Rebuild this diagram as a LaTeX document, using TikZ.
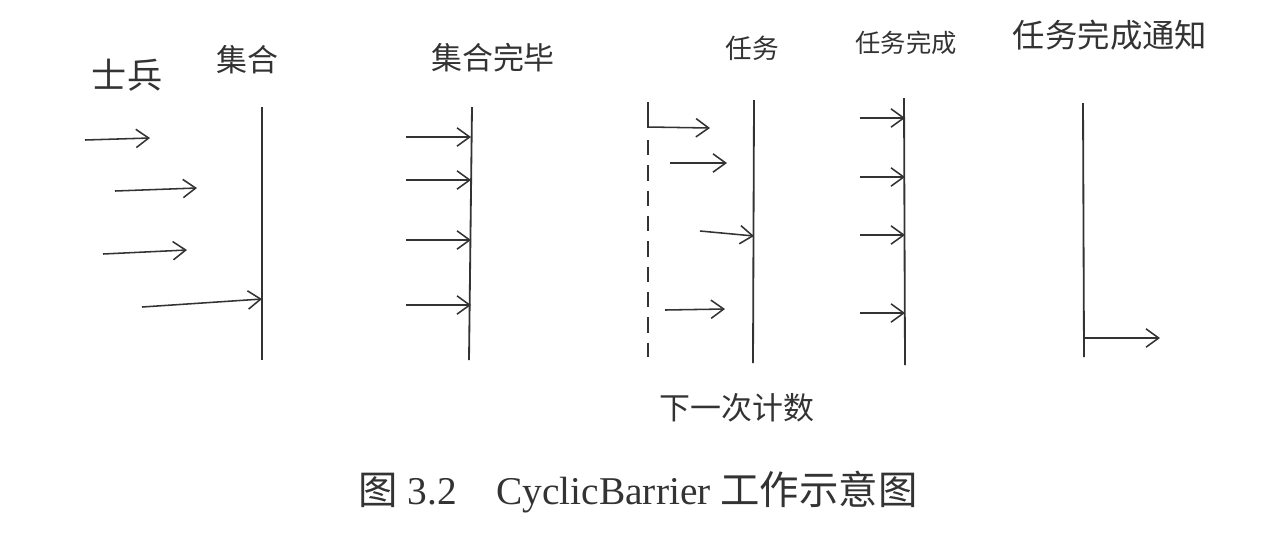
\documentclass[tikz,border=0pt]{standalone}
\usepackage{fontspec}
\setmainfont{Liberation Serif}
\newfontfamily\cjk{Noto Sans CJK SC}
\usepackage{xcolor}
\usetikzlibrary{arrows.meta}

\begin{document}
\begin{tikzpicture}[x=0.025cm, y=-0.025cm, line width=1.1pt, color=black!80, every node/.style={inner sep=0pt}, hand/.style={font=\cjk\fontsize{#1}{#1}\selectfont}, bar/.style={line width=1.3pt}, arr/.style={-{Straight Barb[length=9pt,width=13pt]}}]
  \useasboundingbox (0,0) rectangle (1280,542);
  \node[hand=25](soldier) at (127,75){士兵};
  \node[hand=22](gather) at (247,60){集合};
  \node[hand=22](gathered) at (493,58){集合完毕};
  \node[hand=19](task) at (752,48){任务};
  \node[hand=18](taskdone) at (906,43){任务完成};
  \node[hand=23](notify) at (1110,35){任务完成通知};
  \node[hand=22](nextcount) at (737,408){下一次计数};
  \node[font=\fontsize{28}{28}\selectfont](caption) at (638,492){{\cjk 图} 3.2\hspace{1em}CyclicBarrier {\cjk 工作示意图}};
  \coordinate(b1top) at (262,107); \coordinate(b1bot) at (262,360);
  \coordinate(b2top) at (472,107); \coordinate(b2bot) at (469,360);
  \coordinate(ntop) at (648,102); \coordinate(nmid) at (648,128); \coordinate(ndash) at (648,140); \coordinate(nbot) at (648,357);
  \coordinate(ttop) at (754,100); \coordinate(tbot) at (753,363);
  \coordinate(dtop) at (904,98); \coordinate(dbot) at (905,365);
  \coordinate(ftop) at (1083,103); \coordinate(fbot) at (1084,357); \coordinate(fout) at (1084,338);
  \draw[bar] (b1top) -- (b1bot);
  \draw[bar] (b2top) -- (b2bot);
  \draw[bar] (ntop) -- (nmid);
  \draw[bar, dash pattern=on 11pt off 7pt] (ndash) -- (nbot);
  \draw[bar] (ttop) -- (tbot);
  \draw[bar] (dtop) -- (dbot);
  \draw[bar] (ftop) -- (fbot);
  \foreach \i/\sx/\sy/\ex/\ey in {1/85/140/150/138, 2/115/191/197/188, 3/103/254/187/250, 4/142/307/262/299}
    {\coordinate(s\i) at (\sx,\sy); \coordinate(e\i) at (\ex,\ey); \draw[arr] (s\i) -- (e\i);}
  \foreach \i/\sy in {1/137, 2/180, 3/240, 4/305}
    {\coordinate(g\i) at (406,\sy); \coordinate(h\i) at (471,\sy); \draw[arr] (g\i) -- (h\i);}
  \foreach \i/\sx/\sy/\ex/\ey in {1/648/127/710/128, 2/670/163/727/163, 3/700/231/754/236, 4/665/310/725/309}
    {\coordinate(p\i) at (\sx,\sy); \coordinate(q\i) at (\ex,\ey); \draw[arr] (p\i) -- (q\i);}
  \foreach \i/\sy in {1/118, 2/177, 3/235, 4/313}
    {\coordinate(u\i) at (860,\sy); \coordinate(v\i) at (905,\sy); \draw[arr] (u\i) -- (v\i);}
  \coordinate(fend) at (1160,338);
  \draw[arr] (fout) -- (fend);
\end{tikzpicture}
\end{document}
